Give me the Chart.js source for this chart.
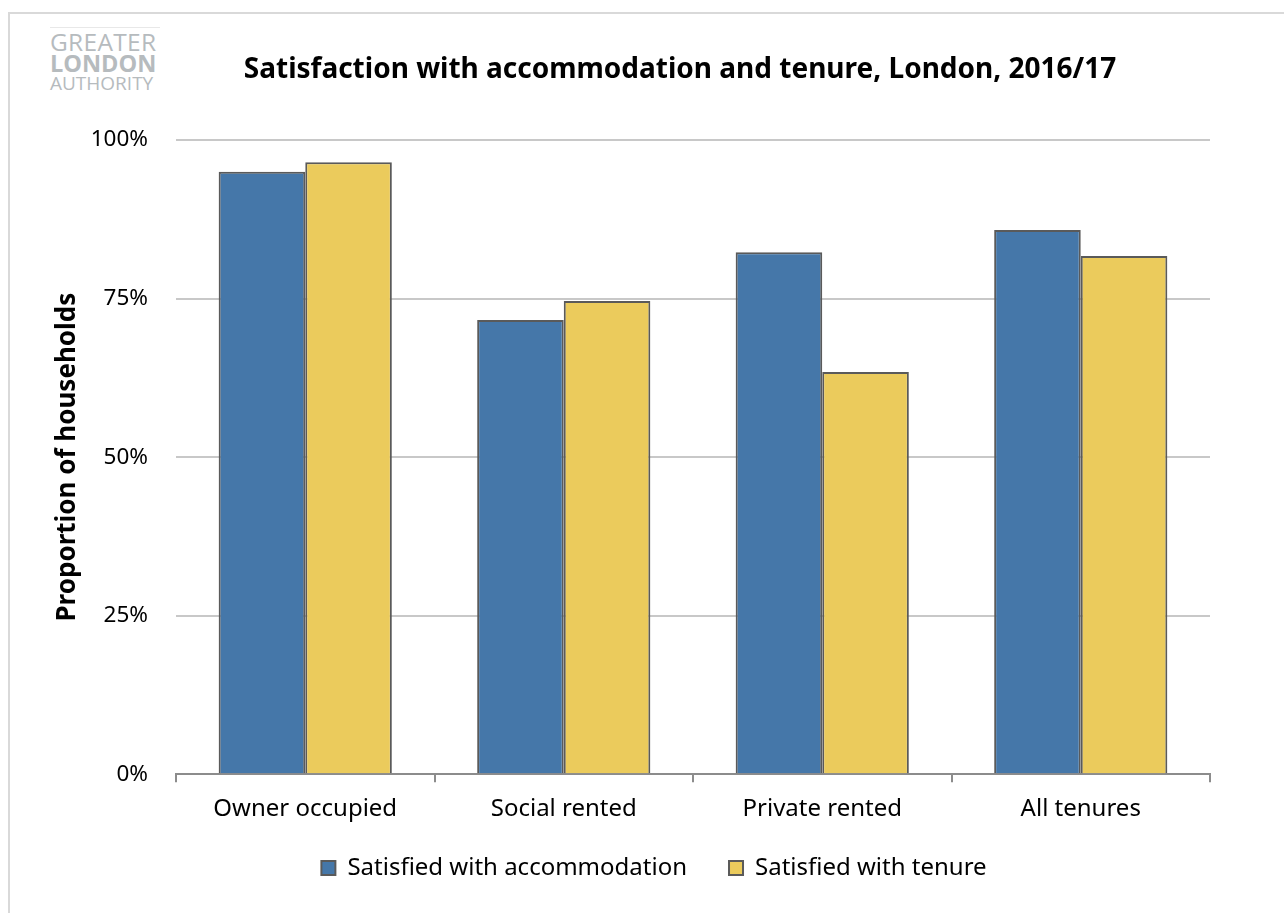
<!DOCTYPE html>
<html><head><meta charset="utf-8">
<script src="https://cdn.jsdelivr.net/npm/chart.js@4"></script>
<style>
html,body{margin:0;padding:0;background:#fff;}
#wrap{position:relative;width:1284px;height:913px;overflow:hidden;}
#frame{position:absolute;left:8px;top:12px;width:1290px;height:920px;border:2px solid #d9d9d9;box-sizing:border-box;}
#logo{position:absolute;left:50px;top:27px;width:110px;height:70px;border-top:1px solid #e8e8e8;font-family:"Open Sans","Noto Sans",sans-serif;color:#b6bbbe;}
#logo div{position:absolute;left:0;white-space:nowrap;line-height:1;}
canvas{position:absolute;left:0;top:0;}
</style></head>
<body><div id="wrap">
<div id="frame"></div>
<div id="logo">
  <div style="top:2px;font-size:24.5px;font-weight:400;letter-spacing:0.3px">GREATER</div>
  <div style="top:24px;font-size:23.5px;font-weight:700;letter-spacing:0px">LONDON</div>
  <div style="top:46px;font-size:19px;font-weight:400;letter-spacing:0px">AUTHORITY</div>
</div>
<canvas id="c" width="1284" height="913"></canvas>
</div>
<script>
const categories = ["Owner occupied", "Social rented", "Private rented", "All tenures"];
const accommodation = [95.0, 71.6, 82.3, 85.8];
const tenure = [96.5, 74.6, 63.4, 81.7];
const yTicks = [0, 25, 50, 75, 100];
const seriesNames = ["Satisfied with accommodation", "Satisfied with tenure"];

const FONT = "'Noto Sans', 'Open Sans', sans-serif";
const boxShift = {
  id: 'boxShift',
  afterLayout(chart) {
    if (chart.titleBlock) { chart.titleBlock.left = 150; }
    if (chart.legend) {
      chart.legend.top -= 23; chart.legend.bottom -= 23;
      chart.legend.left += 23; chart.legend.right += 23;
    }
  }
};
new Chart(document.getElementById('c'), {
  type: 'bar',
  data: {
    labels: categories,
    datasets: [
      {label: seriesNames[0], data: accommodation, backgroundColor: '#4577A9', borderColor: '#5a5a5a', borderWidth: 2},
      {label: seriesNames[1], data: tenure, backgroundColor: '#EBCB5C', borderColor: '#5a5a5a', borderWidth: 2}
    ]
  },
  plugins: [boxShift],
  options: {
    responsive: false,
    animation: false,
    layout: {padding: {left: 52, right: 74, top: 53, bottom: 0}},
    datasets: {bar: {barPercentage: 1.0, categoryPercentage: 0.67}},
    plugins: {
      title: {display: true, text: 'Satisfaction with accommodation and tenure, London, 2016/17', color: '#000',
        font: {family: FONT, size: 28, weight: 'bold'}, padding: {top: 0, bottom: 53.4}},
      legend: {position: 'bottom', labels: {color: '#000', font: {family: FONT, size: 24}, boxWidth: 14, boxHeight: 14, padding: 42}},
      tooltip: {enabled: false}
    },
    scales: {
      x: {
        grid: {display: true, drawOnChartArea: false, drawTicks: true, tickLength: 8, color: '#8c8c8c', lineWidth: 2, offset: true},
        border: {display: true, color: '#8c8c8c', width: 2},
        ticks: {color: '#000', font: {family: FONT, size: 24}, padding: 13}
      },
      y: {
        min: 0, max: 100,
        afterBuildTicks: s => { s.ticks = yTicks.map(v => ({value: v})); },
        afterFit: s => { s.width = 176 - 52; },
        grid: {color: '#c8c8c8', lineWidth: 2, drawTicks: false},
        border: {display: false},
        ticks: {color: '#000', font: {family: FONT, size: 22.5}, padding: 28, callback: v => v + '%'},
        title: {display: true, text: 'Proportion of households', color: '#000', font: {family: FONT, size: 26, weight: 'bold'}, padding: 0}
      }
    }
  }
});
</script>
</body></html>
